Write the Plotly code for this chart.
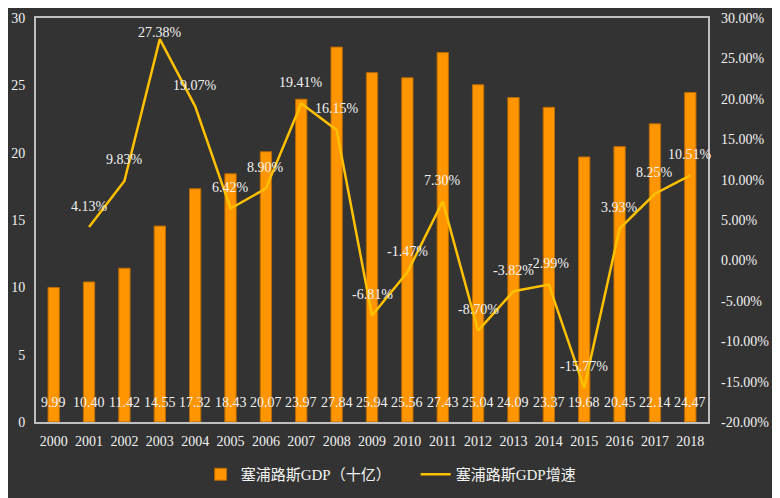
import plotly.graph_objects as go

years = [str(y) for y in range(2000, 2019)]
gdp = [9.99, 10.40, 11.42, 14.55, 17.32, 18.43, 20.07, 23.97, 27.84, 25.94,
       25.56, 27.43, 25.04, 24.09, 23.37, 19.68, 20.45, 22.14, 24.47]
growth = [None, 4.13, 9.83, 27.38, 19.07, 6.42, 8.90, 19.41, 16.15, -6.81,
          -1.47, 7.30, -8.70, -3.82, -2.99, -15.77, 3.93, 8.25, 10.51]
left_ticks = [0, 5, 10, 15, 20, 25, 30]
right_ticks = [-20, -15, -10, -5, 0, 5, 10, 15, 20, 25, 30]

FONT = "Liberation Serif, Noto Sans CJK SC, serif"
TXT = "#f2f2f2"
BG = "#333333"

fig = go.Figure()
fig.add_trace(go.Bar(
    x=years, y=gdp, name="塞浦路斯GDP（十亿）",
    marker=dict(color="#ff9500", line=dict(width=1, color="#b86a00")),
    width=0.32, yaxis="y", hoverinfo="skip",
))
fig.add_trace(go.Scatter(
    x=years, y=growth, name="塞浦路斯GDP增速", mode="lines",
    line=dict(color="#ffc000", width=2.5), yaxis="y2", hoverinfo="skip",
    connectgaps=False,
))

annotations = []
for i, v in enumerate(gdp):
    annotations.append(dict(x=i, y=0, xref="x", yref="y", text=f"{v:.2f}",
                            showarrow=False, yshift=20,
                            font=dict(family=FONT, size=14, color=TXT)))
for i, g in enumerate(growth):
    if g is None:
        continue
    shift = 7 if g > 25 else 21
    annotations.append(dict(x=i, y=g, xref="x", yref="y2", text=f"{g:.2f}%",
                            showarrow=False, yshift=shift,
                            font=dict(family=FONT, size=14, color=TXT)))

fig.update_layout(
    width=780, height=498,
    paper_bgcolor=BG, plot_bgcolor=BG,
    margin=dict(l=28, r=80, t=10, b=84),
    font=dict(family=FONT, size=14, color=TXT),
    showlegend=True,
    legend=dict(orientation="h", x=0.245, xanchor="left", y=-0.13, yanchor="middle",
                font=dict(family=FONT, size=15, color=TXT), bgcolor="rgba(0,0,0,0)",
                itemwidth=30, entrywidth=170, entrywidthmode="pixels"),
    bargap=0.5,
    xaxis=dict(type="category", range=[-0.5, len(years) - 0.5], automargin=False,
               showline=True, linecolor="#bfbfbf", linewidth=2,
               mirror=True, ticks="", showgrid=False, zeroline=False,
               ticklabelstandoff=5,
               tickfont=dict(family=FONT, size=14, color=TXT)),
    yaxis=dict(range=[0, 30], tickvals=left_ticks, showgrid=False, zeroline=False,
               showline=True, linecolor="#bfbfbf", linewidth=2, mirror=True,
               ticks="", ticklabelstandoff=6, automargin=False,
               tickfont=dict(family=FONT, size=14, color=TXT)),
    yaxis2=dict(range=[-20, 30], tickvals=right_ticks,
                ticktext=[f"{t:.2f}%" for t in right_ticks],
                overlaying="y", side="right", showgrid=False, zeroline=False,
                showline=False, ticks="", ticklabelstandoff=12, automargin=False,
                tickfont=dict(family=FONT, size=14, color=TXT)),
    annotations=annotations,
)

fig.write_html("out.html")
